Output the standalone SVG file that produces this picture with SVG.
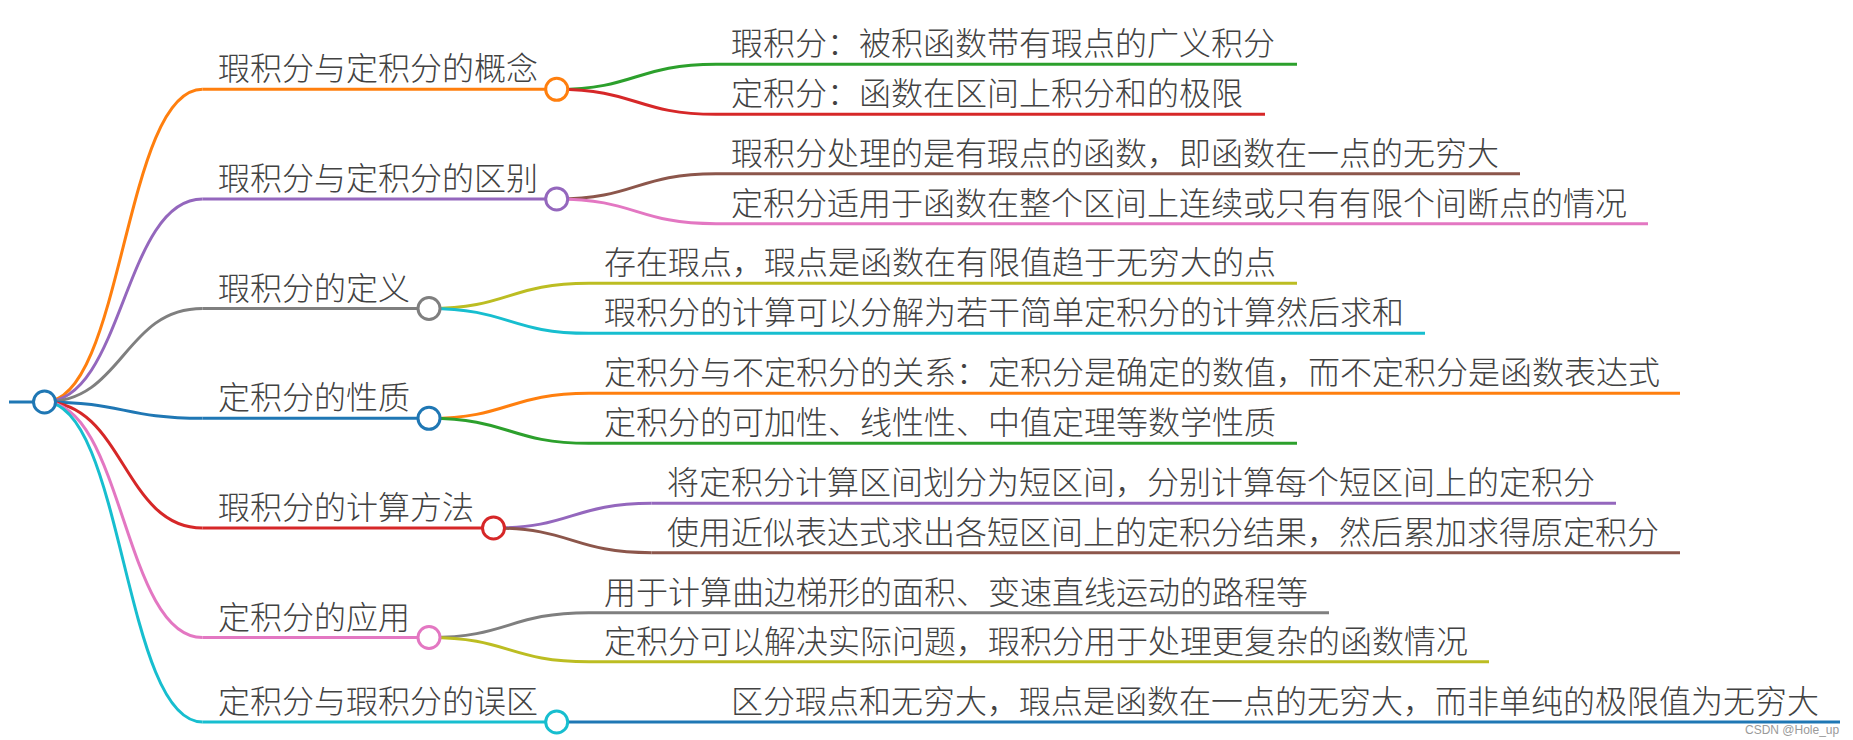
<svg xmlns="http://www.w3.org/2000/svg" width="1853" height="740" viewBox="0 0 1853 740">
<style>
  .t { font-family: "Noto Sans CJK SC", "Noto Sans", sans-serif; font-size: 32px; font-weight: 300; fill: #424242; }
  .ln { fill: none; stroke-width: 3; stroke-linecap: butt; }
  .cv { fill: none; stroke-width: 3; }
  .dot { fill: #ffffff; stroke-width: 3; }
  .wm { font-family: "Liberation Sans", Arial, sans-serif; font-size: 12px; fill: #9a9a9a; }
  .c0 { stroke: #1f77b4; } .c1 { stroke: #ff7f0e; } .c2 { stroke: #2ca02c; } .c3 { stroke: #d62728; }
  .c4 { stroke: #9467bd; } .c5 { stroke: #8c564b; } .c6 { stroke: #e377c2; } .c7 { stroke: #7f7f7f; }
  .c8 { stroke: #bcbd22; } .c9 { stroke: #17becf; }
</style>
<rect width="1853" height="740" fill="#ffffff"/>

<g id="connectors">
  <!-- root to level 1 -->
  <path class="cv c1" d="M44.5 402 C123.5 402 123.5 89.3 202.5 89.3"/>
  <path class="cv c4" d="M44.5 402 C123.5 402 123.5 199 202.5 199"/>
  <path class="cv c7" d="M44.5 402 C123.5 402 123.5 308.5 202.5 308.5"/>
  <path class="cv c0" d="M44.5 402 C123.5 402 123.5 418.3 202.5 418.3"/>
  <path class="cv c3" d="M44.5 402 C123.5 402 123.5 528 202.5 528"/>
  <path class="cv c6" d="M44.5 402 C123.5 402 123.5 637.5 202.5 637.5"/>
  <path class="cv c9" d="M44.5 402 C123.5 402 123.5 722 202.5 722"/>
  <!-- level 1 to level 2 -->
  <path class="cv c2" d="M556.7 89.3 C636.3 89.3 636.3 64.3 716 64.3"/>
  <path class="cv c3" d="M556.7 89.3 C636.3 89.3 636.3 114.3 716 114.3"/>
  <path class="cv c5" d="M556.7 199 C636.3 199 636.3 173.7 716 173.7"/>
  <path class="cv c6" d="M556.7 199 C636.3 199 636.3 223.7 716 223.7"/>
  <path class="cv c8" d="M429 308.5 C509 308.5 509 283.3 589 283.3"/>
  <path class="cv c9" d="M429 308.5 C509 308.5 509 333.3 589 333.3"/>
  <path class="cv c1" d="M429 418.3 C509 418.3 509 393.3 589 393.3"/>
  <path class="cv c2" d="M429 418.3 C509 418.3 509 443.3 589 443.3"/>
  <path class="cv c4" d="M493.5 528 C572.5 528 572.5 503.3 651.5 503.3"/>
  <path class="cv c5" d="M493.5 528 C572.5 528 572.5 552.7 651.5 552.7"/>
  <path class="cv c7" d="M429 637.5 C509 637.5 509 612.7 589 612.7"/>
  <path class="cv c8" d="M429 637.5 C509 637.5 509 661.7 589 661.7"/>
  <path class="cv c0" d="M556.7 722 L716 722"/>
</g>

<g id="root">
  <line class="ln c0" x1="9" y1="402" x2="44.5" y2="402" stroke-width="4"/>
  <circle class="dot c0" cx="44.5" cy="402" r="11"/>
</g>

<g id="n1">
  <line class="ln c1" x1="202.5" y1="89.3" x2="556.7" y2="89.3"/>
  <text class="t" x="218" y="80.3">瑕积分与定积分的概念</text>
  <circle class="dot c1" cx="556.7" cy="89.3" r="11"/>
</g>
<g id="n1a">
  <line class="ln c2" x1="716" y1="64.3" x2="1297" y2="64.3"/>
  <text class="t" x="731" y="55.3">瑕积分：被积函数带有瑕点的广义积分</text>
</g>
<g id="n1b">
  <line class="ln c3" x1="716" y1="114.3" x2="1265" y2="114.3"/>
  <text class="t" x="731" y="105.3">定积分：函数在区间上积分和的极限</text>
</g>

<g id="n2">
  <line class="ln c4" x1="202.5" y1="199" x2="556.7" y2="199"/>
  <text class="t" x="218" y="190">瑕积分与定积分的区别</text>
  <circle class="dot c4" cx="556.7" cy="199" r="11"/>
</g>
<g id="n2a">
  <line class="ln c5" x1="716" y1="173.7" x2="1520" y2="173.7"/>
  <text class="t" x="731" y="164.7">瑕积分处理的是有瑕点的函数，即函数在一点的无穷大</text>
</g>
<g id="n2b">
  <line class="ln c6" x1="716" y1="223.7" x2="1648" y2="223.7"/>
  <text class="t" x="731" y="214.7">定积分适用于函数在整个区间上连续或只有有限个间断点的情况</text>
</g>

<g id="n3">
  <line class="ln c7" x1="202.5" y1="308.5" x2="429" y2="308.5"/>
  <text class="t" x="218" y="299.5">瑕积分的定义</text>
  <circle class="dot c7" cx="429" cy="308.5" r="11"/>
</g>
<g id="n3a">
  <line class="ln c8" x1="589" y1="283.3" x2="1297" y2="283.3"/>
  <text class="t" x="604" y="274.3">存在瑕点，瑕点是函数在有限值趋于无穷大的点</text>
</g>
<g id="n3b">
  <line class="ln c9" x1="589" y1="333.3" x2="1425" y2="333.3"/>
  <text class="t" x="604" y="324.3">瑕积分的计算可以分解为若干简单定积分的计算然后求和</text>
</g>

<g id="n4">
  <line class="ln c0" x1="202.5" y1="418.3" x2="429" y2="418.3"/>
  <text class="t" x="218" y="409.3">定积分的性质</text>
  <circle class="dot c0" cx="429" cy="418.3" r="11"/>
</g>
<g id="n4a">
  <line class="ln c1" x1="589" y1="393.3" x2="1680" y2="393.3"/>
  <text class="t" x="604" y="384.3">定积分与不定积分的关系：定积分是确定的数值，而不定积分是函数表达式</text>
</g>
<g id="n4b">
  <line class="ln c2" x1="589" y1="443.3" x2="1297" y2="443.3"/>
  <text class="t" x="604" y="434.3">定积分的可加性、线性性、中值定理等数学性质</text>
</g>

<g id="n5">
  <line class="ln c3" x1="202.5" y1="528" x2="493.5" y2="528"/>
  <text class="t" x="218" y="519">瑕积分的计算方法</text>
  <circle class="dot c3" cx="493.5" cy="528" r="11"/>
</g>
<g id="n5a">
  <line class="ln c4" x1="651.5" y1="503.3" x2="1616" y2="503.3"/>
  <text class="t" x="667" y="494.3">将定积分计算区间划分为短区间，分别计算每个短区间上的定积分</text>
</g>
<g id="n5b">
  <line class="ln c5" x1="651.5" y1="552.7" x2="1680" y2="552.7"/>
  <text class="t" x="667" y="543.7">使用近似表达式求出各短区间上的定积分结果，然后累加求得原定积分</text>
</g>

<g id="n6">
  <line class="ln c6" x1="202.5" y1="637.5" x2="429" y2="637.5"/>
  <text class="t" x="218" y="628.5">定积分的应用</text>
  <circle class="dot c6" cx="429" cy="637.5" r="11"/>
</g>
<g id="n6a">
  <line class="ln c7" x1="589" y1="612.7" x2="1329" y2="612.7"/>
  <text class="t" x="604" y="603.7">用于计算曲边梯形的面积、变速直线运动的路程等</text>
</g>
<g id="n6b">
  <line class="ln c8" x1="589" y1="661.7" x2="1489" y2="661.7"/>
  <text class="t" x="604" y="652.7">定积分可以解决实际问题，瑕积分用于处理更复杂的函数情况</text>
</g>

<g id="n7">
  <line class="ln c9" x1="202.5" y1="722" x2="556.7" y2="722"/>
  <text class="t" x="218" y="713">定积分与瑕积分的误区</text>
  <circle class="dot c9" cx="556.7" cy="722" r="11"/>
</g>
<g id="n7a">
  <line class="ln c0" x1="716" y1="722" x2="1840" y2="722"/>
  <text class="t" x="731" y="713">区分瑕点和无穷大，瑕点是函数在一点的无穷大，而非单纯的极限值为无穷大</text>
</g>

<text class="wm" x="1745" y="734">CSDN @Hole_up</text>
</svg>
